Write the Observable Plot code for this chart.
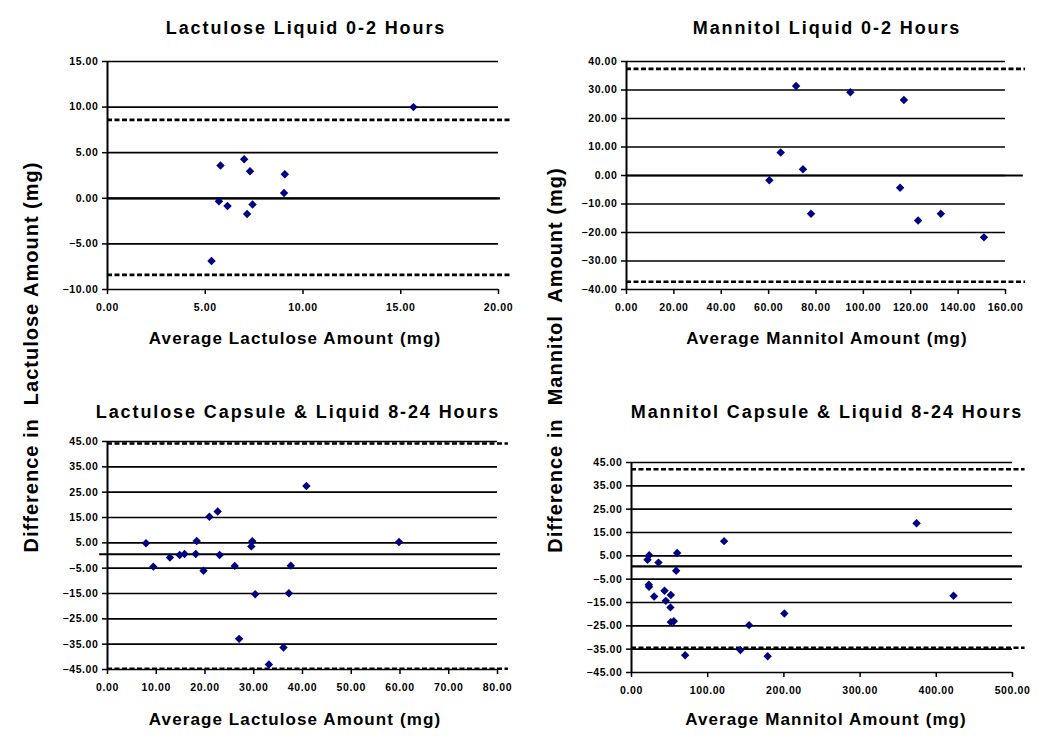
<!DOCTYPE html>
<html><head><meta charset="utf-8">
<script src="https://cdn.jsdelivr.net/npm/d3@7"></script>
<script src="https://cdn.jsdelivr.net/npm/@observablehq/plot@0.6"></script>
<style>
body{margin:0;background:#fff;}
#chart{position:relative;width:1050px;height:746px;font-family:"Liberation Sans",Arial,sans-serif;overflow:hidden;}
.lbl{position:absolute;transform:translate(-50%,-50%);white-space:pre;font-weight:bold;color:#000;}
.title{font-size:18px;letter-spacing:1.9px;}
.xlab{font-size:17px;letter-spacing:1.1px;}
.ylab{font-size:20px;letter-spacing:1px;transform:translate(-50%,-50%) rotate(-90deg);}
.panel{position:absolute;}
</style></head><body><div id="chart"></div>
<script>
// ---- Data ----
const titles = ["Lactulose Liquid 0-2 Hours", "Mannitol Liquid 0-2 Hours",
                "Lactulose Capsule & Liquid 8-24 Hours", "Mannitol Capsule & Liquid 8-24 Hours"];
const xLabels = ["Average Lactulose Amount (mg)", "Average Mannitol Amount (mg)",
                 "Average Lactulose Amount (mg)", "Average Mannitol Amount (mg)"];
const yLabels = ["Difference in  Lactulose Amount (mg)", "Difference in  Mannitol  Amount (mg)"];

// Panel 1: Lactulose liquid 0-2 h
const lactLiquidAvg  = [15.65, 5.78, 6.99, 7.29, 9.07, 9.03, 5.70, 6.14, 7.42, 7.14, 5.32];
const lactLiquidDiff = [10.0, 3.6, 4.28, 2.96, 2.63, 0.59, -0.33, -0.84, -0.69, -1.72, -6.87];
const lactLiquidLimits = [8.6, -8.4];
const lactLiquidBias = [0];
const lactLiquidXTicks = [0, 5, 10, 15, 20];
const lactLiquidYTicks = [-10, -5, 0, 5, 10, 15];

// Panel 2: Mannitol liquid 0-2 h
const mannLiquidAvg  = [60.3, 65.1, 71.6, 74.5, 77.9, 94.5, 117.1, 115.5, 123.1, 132.7, 150.9];
const mannLiquidDiff = [-1.65, 8.1, 31.4, 2.2, -13.4, 29.2, 26.5, -4.3, -15.8, -13.4, -21.7];
const mannLiquidLimits = [37.4, -37.3];
const mannLiquidBias = [0];
const mannLiquidXTicks = [0, 20, 40, 60, 80, 100, 120, 140, 160];
const mannLiquidYTicks = [-40, -30, -20, -10, 0, 10, 20, 30, 40];

// Panel 3: Lactulose capsule & liquid 8-24 h
const lactCapAvg  = [7.9, 9.4, 12.8, 14.8, 15.8, 18.1, 18.3, 20.9, 22.6, 19.7, 23.0, 26.1, 29.7, 29.5, 27.0, 30.3, 33.1, 36.1, 37.2, 37.6, 40.8, 59.8];
const lactCapDiff = [4.8, -4.4, -0.8, 0.2, 0.6, 0.6, 5.7, 15.3, 17.4, -6.0, 0.2, -4.1, 5.6, 3.6, -32.9, -15.3, -43.0, -36.3, -14.9, -4.0, 27.4, 5.3];
const lactCapLimits = [44.2, -44.7];
const lactCapBias = [0.5];
const lactCapXTicks = [0, 10, 20, 30, 40, 50, 60, 70, 80];
const lactCapYTicks = [-45, -35, -25, -15, -5, 5, 15, 25, 35, 45];

// Panel 4: Mannitol capsule & liquid 8-24 h
const mannCapAvg  = [21.0, 23.2, 35.4, 59.9, 58.6, 22.7, 23.0, 29.7, 43.3, 45.0, 51.6, 51.1, 51.6, 55.5, 121.5, 374.1, 422.6, 200.6, 154.3, 70.4, 142.9, 178.7];
const mannCapDiff = [3.3, 5.3, 2.1, 6.2, -1.4, -7.4, -8.3, -12.4, -10.0, -14.3, -11.8, -17.1, -23.4, -23.0, 11.3, 19.0, -12.1, -19.7, -24.7, -37.6, -35.4, -38.0];
const mannCapLimits = [42.1, -34.4];
const mannCapBias = [0.5];
const mannCapXTicks = [0, 100, 200, 300, 400, 500];
const mannCapYTicks = [-45, -35, -25, -15, -5, 5, 15, 25, 35, 45];

// ---- Drawing ----
const chart = document.getElementById("chart");
const fmt = d3.format(".2f");

function panel(cfg) {
  const pts = cfg.avg.map((a, i) => ({a, d: cfg.diff[i]}));
  const x0 = cfg.xTicks[0], x1 = cfg.xTicks[cfg.xTicks.length - 1];
  const y0 = cfg.yTicks[0], y1 = cfg.yTicks[cfg.yTicks.length - 1];
  const span = x1 - x0;
  const svg = Plot.plot({
    width: cfg.width, height: cfg.height,
    marginLeft: cfg.mL, marginTop: cfg.mT, marginRight: cfg.mR, marginBottom: cfg.mB,
    style: {fontFamily: "'Liberation Sans', Arial, sans-serif", fontSize: "10.5px", fontWeight: "bold",
            color: "#000", background: "transparent", maxWidth: "none", letterSpacing: "0.6px"},
    x: {domain: [x0, x1], ticks: cfg.xTicks, tickFormat: fmt, label: null},
    y: {domain: [y0, y1], ticks: cfg.yTicks, tickFormat: fmt, label: null},
    marks: [
      Plot.axisX({ticks: cfg.xTicks, tickFormat: fmt, tickSize: 5, tickPadding: 9, label: null, strokeWidth: 1.5}),
      Plot.axisY({ticks: cfg.yTicks, tickFormat: fmt, tickSize: 5, tickPadding: 4, label: null, strokeWidth: 1.5, textAnchor: "end"}),
      Plot.ruleY(cfg.yTicks, {x1: () => x0, x2: () => x1, stroke: "#000", strokeWidth: 1.7}),
      Plot.ruleY(cfg.bias, {x1: () => x0 - span * cfg.biasLeft, x2: () => x1 + span * cfg.biasRight, stroke: "#000", strokeWidth: 2.2}),
      Plot.ruleY(cfg.limits, {x1: () => x0, x2: () => x1 + span * cfg.dashRight, stroke: "#000", strokeWidth: 2.6, strokeDasharray: "5,2.5"}),
      Plot.ruleX([x0], {y1: () => y0, y2: () => y1, stroke: "#000", strokeWidth: 2}),
      Plot.dot(pts, {x: "a", y: "d", symbol: "diamond2", r: 3.8, fill: "#000080", stroke: "none"})
    ]
  });
  const div = document.createElement("div");
  div.className = "panel";
  div.style.left = cfg.left + "px";
  div.style.top = cfg.top + "px";
  div.appendChild(svg);
  chart.appendChild(div);
}

panel({avg: lactLiquidAvg, diff: lactLiquidDiff, limits: lactLiquidLimits, bias: lactLiquidBias,
  xTicks: lactLiquidXTicks, yTicks: lactLiquidYTicks,
  left: 0, top: 45, width: 525, height: 270, mL: 107, mT: 16, mR: 27, mB: 26,
  biasLeft: 0, biasRight: 0.005, dashRight: 0.03});
panel({avg: mannLiquidAvg, diff: mannLiquidDiff, limits: mannLiquidLimits, bias: mannLiquidBias,
  xTicks: mannLiquidXTicks, yTicks: mannLiquidYTicks,
  left: 525, top: 45, width: 525, height: 270, mL: 101, mT: 16, mR: 45, mB: 26,
  biasLeft: 0, biasRight: 0.047, dashRight: 0.053});
panel({avg: lactCapAvg, diff: lactCapDiff, limits: lactCapLimits, bias: lactCapBias,
  xTicks: lactCapXTicks, yTicks: lactCapYTicks,
  left: 0, top: 425, width: 525, height: 270, mL: 107, mT: 16, mR: 28, mB: 26,
  biasLeft: 0.02, biasRight: 0.008, dashRight: 0.028});
panel({avg: mannCapAvg, diff: mannCapDiff, limits: mannCapLimits, bias: mannCapBias,
  xTicks: mannCapXTicks, yTicks: mannCapYTicks,
  left: 525, top: 425, width: 525, height: 273, mL: 106, mT: 37, mR: 38, mB: 26,
  biasLeft: 0, biasRight: 0.026, dashRight: 0.033});

function label(text, cls, x, y) {
  const d = document.createElement("div");
  d.className = "lbl " + cls;
  d.textContent = text;
  d.style.left = x + "px";
  d.style.top = y + "px";
  chart.appendChild(d);
}
label(titles[0], "title", 306, 28);
label(titles[1], "title", 827, 28);
label(titles[2], "title", 298, 412);
label(titles[3], "title", 827, 412);
label(xLabels[0], "xlab", 295, 339);
label(xLabels[1], "xlab", 827, 339);
label(xLabels[2], "xlab", 295, 720);
label(xLabels[3], "xlab", 826, 720);
label(yLabels[0], "ylab", 31, 357);
label(yLabels[1], "ylab", 555, 360);
</script>
</body></html>
